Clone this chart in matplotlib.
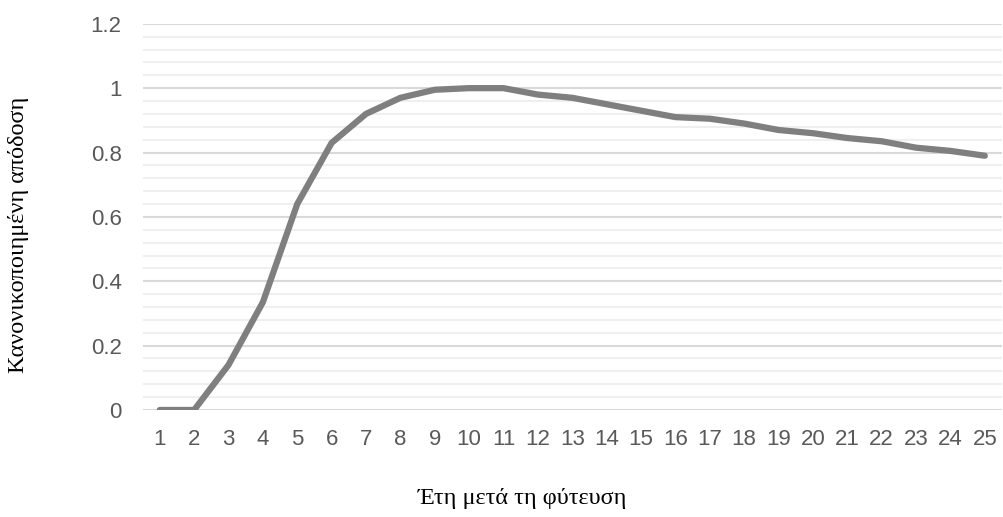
import numpy as np
import matplotlib
matplotlib.use('Agg')
import matplotlib.pyplot as plt
from matplotlib.ticker import MultipleLocator

years = list(range(1, 26))
yield_norm = [0.0, 0.0, 0.14, 0.335, 0.64, 0.83, 0.92, 0.97, 0.995, 1.0,
              1.0, 0.98, 0.97, 0.95, 0.93, 0.91, 0.905, 0.89, 0.87, 0.86,
              0.845, 0.835, 0.815, 0.805, 0.79]
ytick_vals = [0, 0.2, 0.4, 0.6, 0.8, 1.0, 1.2]
ytick_labels = ['0', '0.2', '0.4', '0.6', '0.8', '1', '1.2']

fig = plt.figure(figsize=(10.04, 5.17), dpi=100)
ax = fig.add_axes([0.142, 0.207, 0.856, 0.747])

ax.plot(years, yield_norm, color='#7f7f7f', lw=4.5, solid_capstyle='round',
        solid_joinstyle='round', zorder=3)

ax.set_xlim(0.5, 25.5)
ax.set_ylim(0, 1.2)
ax.set_xticks(years)
ax.set_yticks(ytick_vals)
ax.set_yticklabels(ytick_labels)
ax.yaxis.set_minor_locator(MultipleLocator(0.04))

ax.grid(which='major', axis='y', color='#d9d9d9', lw=1.5, zorder=0)
ax.grid(which='minor', axis='y', color='#efefef', lw=1.5, zorder=0)
for s in ax.spines.values():
    s.set_visible(False)
ax.tick_params(which='both', length=0, labelsize=16, labelcolor='#595959')
for lab in ax.get_xticklabels() + ax.get_yticklabels():
    lab.set_family('Liberation Sans')
ax.tick_params(axis='y', pad=15)
ax.tick_params(axis='x', pad=14)

fig.text(0.52, 0.035, 'Έτη μετά τη φύτευση', ha='center', va='center',
         family='Liberation Serif', fontsize=17.5)
fig.text(0.018, 0.545, 'Κανονικοποιημένη απόδοση', ha='center', va='center',
         rotation=90, family='Liberation Serif', fontsize=17.5)

fig.savefig('out.png', dpi=100)
